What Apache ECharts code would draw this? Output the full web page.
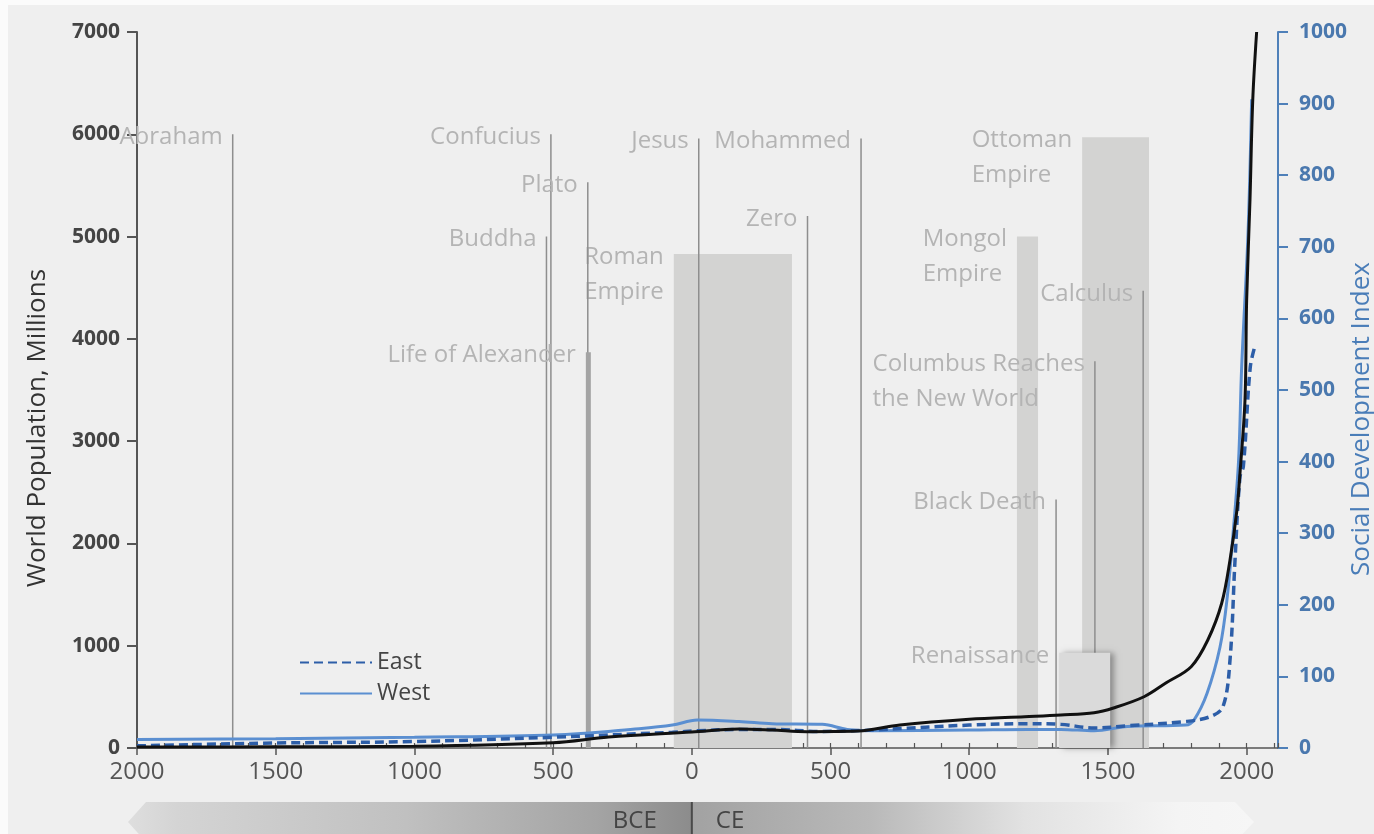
<!DOCTYPE html>
<html>
<head>
<meta charset="utf-8">
<script src="https://cdn.jsdelivr.net/npm/echarts@6/dist/echarts.min.js"></script>
<style>
html,body{margin:0;padding:0;background:#efefef;}
#chart{width:1374px;height:834px;}
</style>
</head>
<body>
<div id="chart"></div>
<script>
// ---- data ----
const popYears  = [-2000,-1500,-1000,-500,-300,0,170,290,415,600,750,1000,1200,1330,1450,1520,1630,1710,1800,1860,1910,1940,1965,1976,1994,2000,2012,2022,2036];
const popValues = [10,12,18,52,107,156,186,176,160,166,225,281,306,323,345,391,501,638,795,1056,1415,1838,2327,2688,3402,4380,5357,6335,7000];

const eastYears  = [-2000,-1500,-1000,-500,-190,-70,20,170,290,470,560,650,1000,1210,1330,1450,1570,1780,1870,1915,1940,1958,1976,1988,2013,2031];
const eastValues = [3,7,9,15,20,22,24,26,26,23,24,25,32,34,33,28,31,37,44,58,123,262,379,393,532,563];

const westYears  = [-2000,-1500,-1000,-500,-190,-70,20,170,290,470,560,650,1000,1210,1330,1450,1570,1780,1810,1857,1904,1929,1953,1971,1982,2005,2018];
const westValues = [12,13,15,18,27,32,39,37,34,33,26,24,25,26,26,24,30,32,39,76,141,207,309,402,532,719,906];

const eventNames = ['Abraham','Confucius','Buddha','Plato','Jesus','Zero','Mohammed','Black Death','Columbus Reaches\nthe New World','Calculus'];
const eventYears = [-1655,-508,-524,-375,25,417,610,1313,1453,1627];
const eventTops  = [6000,6000,5000,5530,5960,5200,5960,2430,3780,4470];

const empireNames  = ['Roman\nEmpire','Mongol\nEmpire','Ottoman\nEmpire'];
const empireStarts = [-65,1172,1407];
const empireEnds   = [361,1248,1648];
const empireTops   = [4830,5000,5970];

const alexanderName  = ['Life of Alexander'];
const alexanderStart = [-382];
const alexanderEnd   = [-364];
const alexanderTop   = [3870];

const renaissanceName  = ['Renaissance'];
const renaissanceStart = [1324];
const renaissanceEnd   = [1508];
const renaissanceTop   = [930];

const xTickValues = [-2000,-1500,-1000,-500,0,500,1000,1500,2000];

// ---- helpers ----
const FONT = 'Open Sans';
const LABEL_FONT = '24px "Open Sans"';
const measureCtx = document.createElement('canvas').getContext('2d');
function blockWidth(text){
  measureCtx.font = LABEL_FONT;
  return Math.max.apply(null, text.split('\n').map(s=>measureCtx.measureText(s).width));
}
function labelEl(name, xRight, yTop){
  const w = blockWidth(name);
  return {
    type:'text', x:xRight - 10 - w, y:yTop - 14.5, silent:true,
    style:{
      text:name, fontSize:24, fontFamily:FONT, fill:'#b4b4b4', lineHeight:35,
      align:'left', verticalAlign:'top'
    }
  };
}
function periodRender(names, fill, extra){
  return function(params, api){
    const a = api.coord([api.value(0), api.value(2)]);
    const b = api.coord([api.value(1), 0]);
    const rect = {type:'rect', shape:{x:a[0], y:a[1], width:b[0]-a[0], height:b[1]-a[1]},
      style:Object.assign({fill:fill}, extra||{})};
    return {type:'group', children:[rect, labelEl(names[params.dataIndex], a[0], a[1])]};
  };
}

const chart = echarts.init(document.getElementById('chart'));
const option = {
  animation:false,
  backgroundColor:'#efefef',
  grid:{left:137, right:96, top:32, bottom:86, containLabel:false, outerBoundsMode:'none'},
  legend:{
    data:['East','West'], orient:'vertical', left:294, top:646,
    itemWidth:72, itemHeight:14, itemGap:8,
    itemStyle:{opacity:0},
    textStyle:{fontSize:23, color:'#444', fontFamily:FONT}
  },
  xAxis:[{
    type:'value', min:-2000, max:2113, interval:500,
    axisLine:{onZero:false, lineStyle:{color:'#555', width:1.5}},
    axisTick:{length:7, lineStyle:{color:'#555', width:1.5}},
    axisLabel:{
      formatter:v=> xTickValues.indexOf(v)>=0 ? String(Math.abs(v)) : '',
      showMaxLabel:false, color:'#555', fontSize:24, fontFamily:FONT, margin:12
    },
    splitLine:{show:false}
  },{
    type:'value', min:-2000, max:2113, interval:100, position:'bottom',
    axisLine:{show:false, onZero:false}, axisLabel:{show:false}, splitLine:{show:false},
    axisTick:{inside:true, length:5, lineStyle:{color:'#555', width:1.2}}
  }],
  yAxis:[{
    type:'value', min:0, max:7000, interval:1000, position:'left',
    name:'World Population, Millions', nameLocation:'middle', nameRotate:90, nameGap:86,
    nameMoveOverlap:false,
    nameTextStyle:{fontSize:26, color:'#333', fontFamily:FONT, padding:[0,76,0,0]},
    axisLine:{show:true, onZero:false, lineStyle:{color:'#555', width:2}},
    axisTick:{show:true, length:10, lineStyle:{color:'#555', width:2}},
    axisLabel:{formatter:v=>String(v), color:'#444', fontWeight:'bold', fontSize:21, fontFamily:FONT, margin:17},
    splitLine:{show:false}
  },{
    type:'value', min:0, max:1000, interval:100, position:'right',
    name:'Social Development Index', nameLocation:'middle', nameRotate:90, nameGap:71,
    nameMoveOverlap:false,
    nameTextStyle:{fontSize:26, color:'#4a7db8', fontFamily:FONT, padding:[0,58,0,0]},
    axisLine:{show:true, onZero:false, lineStyle:{color:'#4f80b9', width:2}},
    axisTick:{show:true, length:10, lineStyle:{color:'#4f80b9', width:2}},
    axisLabel:{formatter:v=>String(v), color:'#4a78ae', fontWeight:'bold', fontSize:21, fontFamily:FONT, margin:21},
    splitLine:{show:false}
  }],
  series:[
    {
      type:'custom', name:'empires', z:1, silent:true,
      data: empireStarts.map((s,i)=>[s, empireEnds[i], empireTops[i]]),
      renderItem: periodRender(empireNames, '#d3d3d2')
    },
    {
      type:'custom', name:'events', z:2, silent:true,
      data: eventYears.map((y,i)=>[y, eventTops[i]]),
      renderItem:function(params, api){
        const t = api.coord([api.value(0), api.value(1)]);
        const b = api.coord([api.value(0), 0]);
        return {type:'group', children:[
          {type:'line', shape:{x1:t[0], y1:b[1], x2:t[0], y2:t[1]}, style:{stroke:'#8e8e8e', lineWidth:1.5}},
          labelEl(eventNames[params.dataIndex], t[0], t[1])
        ]};
      }
    },
    {
      type:'custom', name:'alexander', z:2, silent:true,
      data: alexanderStart.map((s,i)=>[s, alexanderEnd[i], alexanderTop[i]]),
      renderItem: periodRender(alexanderName, '#a4a4a4')
    },
    {
      type:'custom', name:'renaissance', z:3, silent:true,
      data: renaissanceStart.map((s,i)=>[s, renaissanceEnd[i], renaissanceTop[i]]),
      renderItem: periodRender(renaissanceName, '#dadada',
        {shadowColor:'rgba(0,0,0,0.35)', shadowBlur:6, shadowOffsetX:4})
    },
    {
      type:'line', name:'West', yAxisIndex:1, z:4, symbol:'none', smooth:0.35,
      data: westYears.map((y,i)=>[y, westValues[i]]),
      lineStyle:{color:'#5b8fd1', width:3}, itemStyle:{color:'#5b8fd1'}
    },
    {
      type:'line', name:'East', yAxisIndex:1, z:5, symbol:'none', smooth:0.35,
      data: eastYears.map((y,i)=>[y, eastValues[i]]),
      lineStyle:{color:'#2d5ea8', width:3.5, type:[9,5]}, itemStyle:{color:'#2d5ea8'}
    },
    {
      type:'line', name:'Population', yAxisIndex:0, z:6, symbol:'none', smooth:0.35,
      data: popYears.map((y,i)=>[y, popValues[i]]),
      lineStyle:{color:'#111', width:3}, itemStyle:{color:'#111'}
    }
  ]
};
chart.setOption(option);

// decorative BCE / CE band below the axis
const x0 = chart.convertToPixel({xAxisIndex:0}, 0);
const L = 128, R = 1254, T = 802, M = 822, B = 842;
const off = x => (x - L) / (R - L);
chart.setOption({
  graphic:[
    {type:'rect', shape:{x:0, y:0, width:1374, height:5}, style:{fill:'#fbfbfb'}, silent:true},
    {type:'rect', shape:{x:0, y:0, width:8, height:834}, style:{fill:'#fbfbfb'}, silent:true},
    {type:'polygon', silent:true, z:-1,
      shape:{points:[[L,M],[L+18,T],[R-19,T],[R,M],[R-19,B],[L+18,B]]},
      style:{fill:{type:'linear', x:0, y:0, x2:1, y2:0, colorStops:[
        {offset:0, color:'#dedede'},
        {offset:off(177), color:'#d4d4d4'},
        {offset:off(406), color:'#c0c0c0'},
        {offset:off(597), color:'#a4a4a4'},
        {offset:off(x0)-0.001, color:'#8c8c8c'},
        {offset:off(x0)+0.001, color:'#a2a2a2'},
        {offset:off(870), color:'#b9b9b9'},
        {offset:off(1025), color:'#e2e2e2'},
        {offset:off(1177), color:'#f4f4f4'},
        {offset:1, color:'#f6f6f6'}
      ]}}
    },
    {type:'line', silent:true, shape:{x1:x0, y1:T, x2:x0, y2:834}, style:{stroke:'#4a4a4a', lineWidth:2}},
    {type:'text', silent:true, x:x0-35, y:821, style:{text:'BCE', align:'right', verticalAlign:'middle', fontSize:24, fontFamily:FONT, fill:'#444'}},
    {type:'text', silent:true, x:x0+24, y:821, style:{text:'CE', align:'left', verticalAlign:'middle', fontSize:24, fontFamily:FONT, fill:'#444'}}
  ]
});
</script>
</body>
</html>
